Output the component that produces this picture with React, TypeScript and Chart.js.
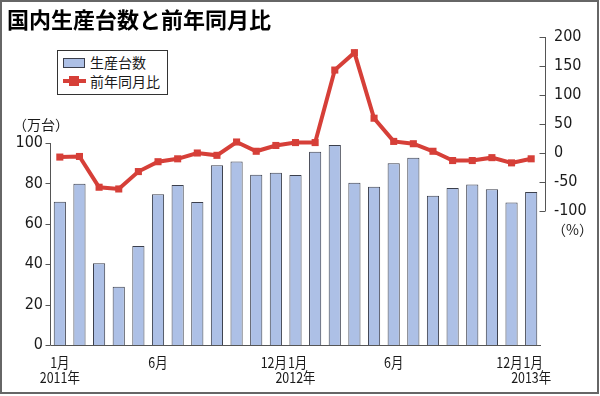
import React, { useEffect, useRef } from 'react';
import { Chart, registerables } from 'chart.js';

Chart.register(...registerables);

const months = [
  '2011-01', '2011-02', '2011-03', '2011-04', '2011-05', '2011-06', '2011-07', '2011-08', '2011-09', '2011-10', '2011-11', '2011-12',
  '2012-01', '2012-02', '2012-03', '2012-04', '2012-05', '2012-06', '2012-07', '2012-08', '2012-09', '2012-10', '2012-11', '2012-12',
  '2013-01',
];
const production = [
  70.9, 79.9, 40.5, 28.9, 49.0, 74.6, 79.2, 70.8, 89.0, 90.9, 84.3, 85.3,
  84.2, 95.7, 99.0, 80.3, 78.4, 90.0, 92.7, 73.9, 77.7, 79.5, 77.1, 70.6,
  75.7,
];
const yoyChange = [
  -7, -6, -59, -62, -32, -15, -10, 0, -4, 19, 3, 13,
  18, 18, 143, 173, 60, 20, 16, 3, -13, -13, -8, -17,
  -10,
];
const xTickLabels: (string | string[])[] = [
  ['1月', '2011年'], '', '', '', '', '6月', '', '', '', '', '', '12月',
  ['1月', '2012年'], '', '', '', '', '6月', '', '', '', '', '', '12月',
  ['1月', '2013年'],
];
const leftTicks = [0, 20, 40, 60, 80, 100];
const rightTicks = [-100, -50, 0, 50, 100, 150, 200];

const seriesNames = ['生産台数', '前年同月比'];
const titleText = '国内生産台数と前年同月比';
const leftUnit = '（万台）';
const rightUnit = '（%）';

const BAR_FILL = '#adc0e6';
const BAR_EDGE = '#3b3f4c';
const LINE_RED = '#d63f38';
const TEXT = '#1a1a1a';
const AXIS = '#555555';
const NUM_FONT = '"Liberation Sans Narrow", "DejaVu Sans Condensed", "Noto Sans CJK JP", sans-serif';
const CJK_FONT = '"Noto Sans CJK JP", "Noto Sans", sans-serif';
const X_SQUEEZE = 0.83;

const decorPlugin = {
  id: 'decor',
  beforeDraw(chart: any) {
    const ctx = chart.ctx;
    ctx.save();
    ctx.fillStyle = '#ffffff';
    ctx.fillRect(0, 0, chart.width, chart.height);
    ctx.restore();
  },
  afterDatasetsDraw(chart: any) {
    const ctx = chart.ctx;
    const { chartArea } = chart;
    const x = chart.scales.x;
    const y = chart.scales.y;
    const y1 = chart.scales.y1;
    ctx.save();
    ctx.strokeStyle = AXIS;
    ctx.lineWidth = 1;
    // left axis
    const lx = Math.round(chartArea.left) + 0.5;
    ctx.beginPath();
    ctx.moveTo(lx, y.getPixelForValue(leftTicks[leftTicks.length - 1]));
    ctx.lineTo(lx, y.getPixelForValue(0));
    leftTicks.forEach((v) => {
      const py = Math.round(y.getPixelForValue(v)) + 0.5;
      ctx.moveTo(lx - 5, py);
      ctx.lineTo(lx, py);
    });
    ctx.stroke();
    // bottom axis
    const by = Math.round(y.getPixelForValue(0)) + 0.5;
    ctx.beginPath();
    ctx.moveTo(lx, by);
    ctx.lineTo(chartArea.right, by);
    ctx.stroke();
    // right axis
    const rx = Math.round(chartArea.right) + 4.5;
    ctx.beginPath();
    ctx.moveTo(rx, y1.getPixelForValue(rightTicks[rightTicks.length - 1]));
    ctx.lineTo(rx, y1.getPixelForValue(rightTicks[0]));
    rightTicks.forEach((v) => {
      const py = Math.round(y1.getPixelForValue(v)) + 0.5;
      ctx.moveTo(rx - 6, py);
      ctx.lineTo(rx, py);
    });
    ctx.stroke();

    // x tick labels (condensed), with simple overlap avoidance per line
    ctx.fillStyle = TEXT;
    ctx.font = '15px ' + CJK_FONT;
    ctx.textBaseline = 'middle';
    ctx.textAlign = 'center';
    const lineY = [chartArea.bottom + 17.5, chartArea.bottom + 32.5];
    const placed: { cx: number; w: number; text: string; row: number }[] = [];
    xTickLabels.forEach((lab, i) => {
      const lines = Array.isArray(lab) ? lab : [lab];
      const px = x.getPixelForValue(i);
      lines.forEach((t, row) => {
        if (!t) return;
        const w = ctx.measureText(t).width * X_SQUEEZE;
        placed.push({ cx: px, w, text: t, row });
      });
    });
    for (let r = 0; r < 2; r++) {
      const items = placed.filter((p) => p.row === r).sort((a, b) => a.cx - b.cx);
      for (let k = 1; k < items.length; k++) {
        const a = items[k - 1];
        const b = items[k];
        const gap = (b.cx - b.w / 2) - (a.cx + a.w / 2);
        if (gap < 1) {
          const shift = (1 - gap) / 2;
          a.cx -= shift;
          b.cx += shift;
        }
      }
    }
    placed.forEach((p) => {
      ctx.save();
      ctx.translate(p.cx, lineY[p.row]);
      ctx.scale(X_SQUEEZE, 1);
      ctx.fillText(p.text, 0, 0);
      ctx.restore();
    });

    // unit labels
    ctx.font = '14px ' + CJK_FONT;
    ctx.textAlign = 'left';
    ctx.fillText(leftUnit, 13, 125);
    ctx.fillText(rightUnit, 552, 230);
    ctx.restore();
  },
};

export default function App() {
  const canvasRef = useRef<HTMLCanvasElement | null>(null);

  useEffect(() => {
    const canvas = canvasRef.current;
    if (!canvas) return;
    const chart = new Chart(canvas, {
      type: 'bar',
      data: {
        labels: months,
        datasets: [
          {
            type: 'line',
            label: seriesNames[1],
            data: yoyChange,
            yAxisID: 'y1',
            borderColor: LINE_RED,
            backgroundColor: LINE_RED,
            borderWidth: 4,
            pointStyle: 'rect',
            pointRadius: 5,
            pointBorderWidth: 0,
            pointBackgroundColor: LINE_RED,
            tension: 0,
            order: 0,
          } as any,
          {
            type: 'bar',
            label: seriesNames[0],
            data: production,
            yAxisID: 'y',
            backgroundColor: BAR_FILL,
            borderColor: BAR_EDGE,
            borderWidth: 1,
            categoryPercentage: 1,
            barPercentage: 0.62,
            order: 1,
          } as any,
        ],
      },
      options: {
        responsive: false,
        animation: false,
        devicePixelRatio: 1,
        layout: { padding: { left: 0, right: 0, top: 37, bottom: 0 } },
        plugins: {
          legend: { display: false },
          tooltip: { enabled: false },
          title: { display: false },
        },
        scales: {
          x: {
            grid: { display: false, drawTicks: false },
            border: { display: false },
            afterFit: (s: any) => { s.height = 51; },
            ticks: { display: false, autoSkip: false, maxRotation: 0, minRotation: 0 },
          },
          y: {
            position: 'left',
            min: 0,
            max: 152.5,
            grid: { display: false, drawTicks: false },
            border: { display: false },
            afterFit: (s: any) => { s.width = 50; },
            afterBuildTicks: (s: any) => { s.ticks = leftTicks.map((v) => ({ value: v })); },
            ticks: {
              padding: 7,
              color: TEXT,
              font: { family: NUM_FONT, size: 16 },
            },
          },
          y1: {
            position: 'right',
            min: -331,
            max: 200,
            grid: { display: false, drawTicks: false },
            border: { display: false },
            afterFit: (s: any) => { s.width = 59; },
            afterBuildTicks: (s: any) => { s.ticks = rightTicks.map((v) => ({ value: v })); },
            ticks: {
              padding: 13,
              color: TEXT,
              font: { family: NUM_FONT, size: 16 },
            },
          },
        },
      } as any,
      plugins: [decorPlugin],
    });
    return () => chart.destroy();
  }, []);

  return (
    <div style={{ position: 'fixed', left: 0, top: 0, width: 600, height: 396, background: '#fff', overflow: 'hidden' }}>
      <canvas ref={canvasRef} width={600} height={396} style={{ display: 'block', position: 'absolute', left: 0, top: 0 }} />
      <div style={{ position: 'absolute', left: 7, top: 4, fontFamily: CJK_FONT, fontWeight: 700, fontSize: 22, lineHeight: '28px', color: '#000', whiteSpace: 'nowrap' }}>
        {titleText}
      </div>
      <div style={{ position: 'absolute', left: 57, top: 50, width: 111, height: 45, boxSizing: 'border-box', border: '1px solid #333', background: '#fff' }}>
        <div style={{ position: 'absolute', left: 5, top: 7, width: 22, height: 10, boxSizing: 'border-box', background: BAR_FILL, border: '1px solid ' + BAR_EDGE }} />
        <div style={{ position: 'absolute', left: 32, top: 2, fontFamily: CJK_FONT, fontSize: 14, lineHeight: '18px', color: TEXT, whiteSpace: 'nowrap' }}>{seriesNames[0]}</div>
        <div style={{ position: 'absolute', left: 5, top: 28, width: 23, height: 4, background: LINE_RED }} />
        <div style={{ position: 'absolute', left: 11, top: 25, width: 10, height: 10, background: LINE_RED }} />
        <div style={{ position: 'absolute', left: 32, top: 21, fontFamily: CJK_FONT, fontSize: 14, lineHeight: '18px', color: TEXT, whiteSpace: 'nowrap' }}>{seriesNames[1]}</div>
      </div>
      <div style={{ position: 'absolute', left: 0, top: 0, width: 599, height: 394, boxSizing: 'border-box', border: '2px solid #666', pointerEvents: 'none' }} />
    </div>
  );
}
